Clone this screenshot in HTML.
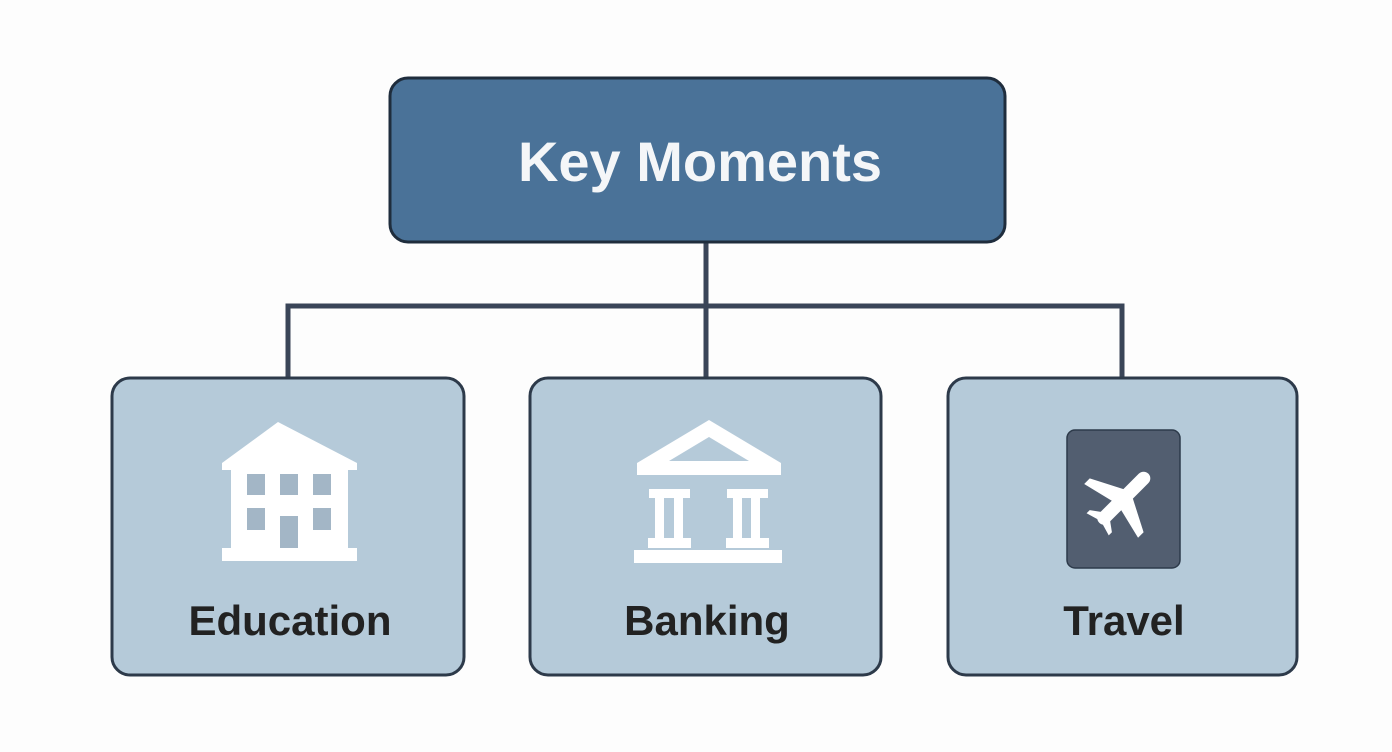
<!DOCTYPE html>
<html><head><style>body{margin:0;background:#fff}svg{display:block}</style></head>
<body>
<svg width="1392" height="752" viewBox="0 0 1392 752" xmlns="http://www.w3.org/2000/svg">
<rect width="1392" height="752" fill="#fdfdfd"/>
<g stroke="#3a4558" stroke-width="5" fill="none">
<path d="M706 242V306M288 380V306H1122V380M706 306V380"/>
</g>
<rect x="390" y="78" width="615" height="164" rx="18" fill="#4a7298" stroke="#1f2d3d" stroke-width="3"/>
<text x="700" y="181" text-anchor="middle" font-family="Liberation Sans, sans-serif" font-weight="bold" font-size="56" fill="#f4f6f8">Key Moments</text>
<g fill="#b5cad9" stroke="#2d3a4a" stroke-width="3">
<rect x="112" y="378" width="352" height="297" rx="18"/>
<rect x="530" y="378" width="351" height="297" rx="18"/>
<rect x="948" y="378" width="349" height="297" rx="18"/>
</g>
<g font-family="Liberation Sans, sans-serif" font-weight="bold" font-size="42" fill="#222" text-anchor="middle">
<text x="290" y="635">Education</text>
<text x="707" y="635">Banking</text>
<text x="1124" y="635">Travel</text>
</g>
<g fill="#fff">
<polygon points="278,422 222,463 222,470 357,470 357,463"/>
<rect x="231" y="465" width="117" height="83"/>
<rect x="222" y="548" width="135" height="13"/>
</g>
<g fill="#a3b6c6">
<rect x="247" y="474" width="18" height="21"/><rect x="280" y="474" width="18" height="21"/><rect x="313" y="474" width="18" height="21"/>
<rect x="247" y="508" width="18" height="22"/><rect x="313" y="508" width="18" height="22"/>
<rect x="280" y="516" width="18" height="32"/>
</g>
<g fill="#fff">
<polygon points="709,420 637,463 781,463"/>
<rect x="637" y="463" width="144" height="12"/>
<rect x="649" y="489" width="41" height="9"/><rect x="727" y="489" width="41" height="9"/>
<rect x="655" y="498" width="9" height="40"/><rect x="674" y="498" width="9" height="40"/>
<rect x="733" y="498" width="9" height="40"/><rect x="751" y="498" width="9" height="40"/>
<rect x="648" y="538" width="43" height="10"/><rect x="726" y="538" width="43" height="10"/>
<rect x="634" y="550" width="148" height="13"/>
</g>
<polygon points="709,437 669,461 749,461" fill="#b5cad9"/>
<rect x="1067" y="430" width="113" height="138" rx="8" fill="#525e70" stroke="#2d3a4a" stroke-width="1.5"/>
<g transform="translate(1123,499) rotate(45) scale(1.12)" fill="#fff">
<rect x="-6" y="-32" width="12" height="62" rx="6"/>
<polygon points="-3,-8 -34,8 -34,15 3,6"/>
<polygon points="3,-8 34,8 34,15 -3,6"/>
<polygon points="-3,20 -14,28 -14,32 3,27"/>
<polygon points="3,20 14,28 14,32 -3,27"/>
</g>
</svg>
</body></html>
